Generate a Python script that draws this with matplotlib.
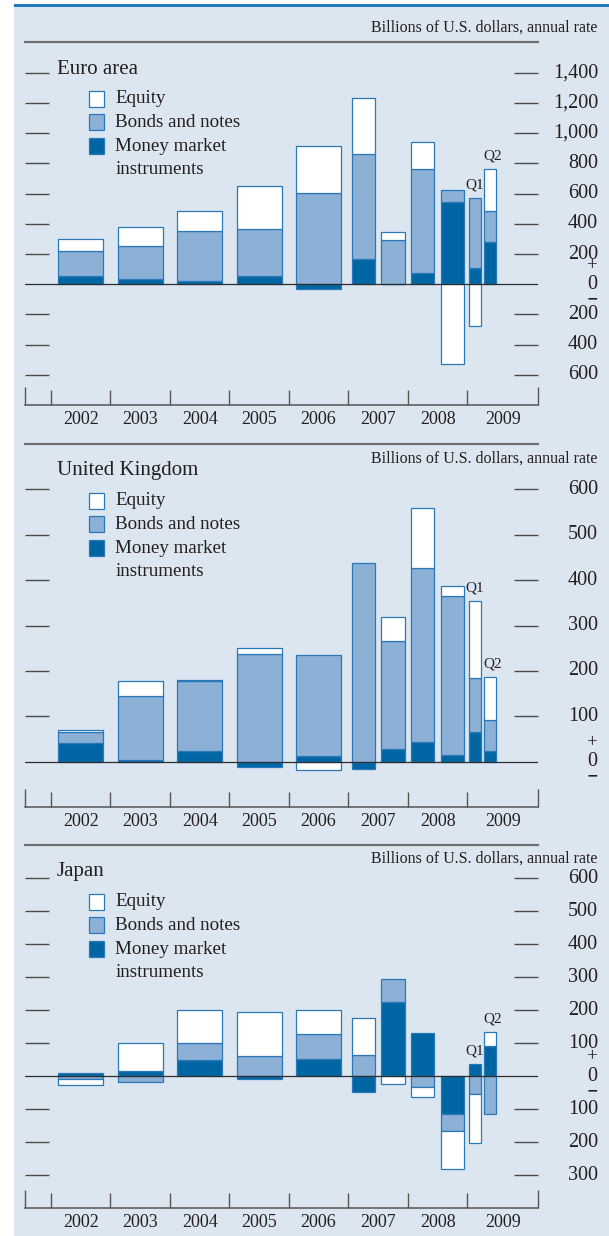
import matplotlib.pyplot as plt
from matplotlib.patches import Rectangle
import matplotlib.transforms as mtransforms

plt.rcParams['font.family'] = ['Liberation Serif', 'DejaVu Serif']

W, H = 609, 1236

# periods shown on each panel: annual, then half years, then 2009 quarters
periods = ['2002', '2003', '2004', '2005', '2006',
           '2007 H1', '2007 H2', '2008 H1', '2008 H2', '2009 Q1', '2009 Q2']
years = ['2002', '2003', '2004', '2005', '2006', '2007', '2008', '2009']
series_names = ['Equity', 'Bonds and notes', 'Money market\ninstruments']

# billions of U.S. dollars, annual rate
euro_money = [57, 35, 22, 53, -29, 170, 3, 75, 545, 106, 278]
euro_bonds = [161, 219, 331, 311, 607, 693, 291, 687, 78, 468, 210]
euro_equity = [80, 123, 130, 287, 309, 369, 55, 181, -528, -274, 276]

uk_money = [41, 4, 23, -12, 12, -16, 28, 43, 15, 65, 24]
uk_bonds = [25, 142, 154, 238, 223, 438, 239, 384, 351, 120, 67]
uk_equity = [4, 32, 3, 13, -18, 0, 52, 132, 20, 168, 95]

jp_money = [8, 15, 48, -10, 51, -48, 223, 132, -116, 38, 91]
jp_bonds = [-9, -17, 53, 61, 78, 65, 70, -34, -49, -54, -116]
jp_equity = [-18, 86, 98, 132, 70, 110, -25, -28, -115, -149, 44]

euro_ticks = [-600, -400, -200, 200, 400, 600, 800, 1000, 1200, 1400]
uk_ticks = [100, 200, 300, 400, 500, 600]
jp_ticks = [-300, -200, -100, 100, 200, 300, 400, 500, 600]

BG = '#dce6f0'
C_EQ = 'white'
C_BOND = '#8cb0d6'
C_MONEY = '#0066a3'
EDGE = '#2a78b8'
TXT = '#231f20'


def fx(x):
    return x / W


def fy(y):
    return 1 - y / H


def slot(p):
    # position and width of a bar from its period label
    yr = int(p[:4]) - 2002
    if 'H' in p:
        k = int(p[-1])
        return yr + 0.25 + 0.5 * (k - 1), 0.39
    if 'Q' in p:
        k = int(p[-1])
        return yr + 0.125 + 0.25 * (k - 1), 0.2
    return yr + 0.5, 0.76


fig = plt.figure(figsize=(W / 100, H / 100), dpi=100, facecolor='white')
fig.add_artist(Rectangle((fx(14), 0), (W - 14) / W, fy(7), transform=fig.transFigure,
                         facecolor=BG, edgecolor='none', zorder=0))
fig.add_artist(Rectangle((fx(14), fy(7)), (W - 14) / W, 3 / H, transform=fig.transFigure,
                         facecolor='#2078bd', edgecolor='none', zorder=1))

xl, xr = -0.444, 8.188
ax_left, ax_right = 24.5, 538

panels = [
    ('Euro area', euro_money, euro_bonds, euro_equity, euro_ticks, 42.3, (-799, 1603), -15),
    ('United Kingdom', uk_money, uk_bonds, uk_equity, uk_ticks, 444.3, (-99, 699), 14),
    ('Japan', jp_money, jp_bonds, jp_equity, jp_ticks, 845, (-398, 700), 13.5),
]
ph = 362.5

for title, money, bonds, equity, ticks, top, ylim, units_dy in panels:
    ax = fig.add_axes([fx(ax_left), fy(top + ph), (ax_right - ax_left) / W, ph / H])
    ax.patch.set_alpha(0)
    ax.set_xlim(xl, xr)
    ax.set_ylim(*ylim)

    pos_cum = [0.0] * len(periods)
    neg_cum = [0.0] * len(periods)
    for vals, col in [(money, C_MONEY), (bonds, C_BOND), (equity, C_EQ)]:
        for i, p in enumerate(periods):
            v = vals[i]
            if v == 0:
                continue
            x, w = slot(p)
            if v > 0:
                b = pos_cum[i]
                pos_cum[i] += v
            else:
                b = neg_cum[i]
                neg_cum[i] += v
            ax.bar(x, v, width=w, bottom=b, color=col, edgecolor=EDGE, linewidth=0.9, zorder=2)

    ax.axhline(0, color='#2d2d2d', lw=0.9, zorder=3)

    # quarter labels above the 2009 bars
    for i, p in enumerate(periods):
        if 'Q' in p:
            x, w = slot(p)
            dx = 0 if p.endswith('1') else 3
            ax.annotate(p[-2:], xy=(x, pos_cum[i]), xytext=(dx, 13), textcoords='offset pixels',
                        ha='center', va='center', fontsize=11, color=TXT)

    for s in ['left', 'right']:
        ax.spines[s].set_visible(False)
    ax.spines['top'].set_color('#6f6f6f')
    ax.spines['top'].set_linewidth(1.6)
    ax.spines['bottom'].set_color('#555555')
    ax.spines['bottom'].set_linewidth(1.1)

    ax.set_xticks(range(8))
    ax.set_xticks([xl, xr], minor=True)
    ax.tick_params(axis='x', which='major', direction='in', length=10.8, width=1.0,
                   color='#555555', labelbottom=False)
    ax.tick_params(axis='x', which='minor', direction='in', length=13, width=1.0,
                   color='#555555', labelbottom=False)
    ax.set_yticks(ticks)
    ax.tick_params(axis='y', direction='in', left=True, right=True, length=17.3, width=1.0,
                   color='#4a4a4a', labelleft=False, labelright=False)

    # right-hand value labels
    lab_tr = mtransforms.blended_transform_factory(ax.transAxes, ax.transData)
    lx = 1 + (598 - ax_right) / (ax_right - ax_left)
    cx = 1 + (592 - ax_right) / (ax_right - ax_left)
    for t in ticks:
        ax.text(lx, t, f'{abs(t):,}', transform=lab_tr, ha='right', va='center',
                fontsize=14.5, color=TXT)
    ax.text(cx, 0, '0', transform=lab_tr, ha='center', va='center', fontsize=14.5, color=TXT)
    ax.annotate('+', xy=(cx, 0), xycoords=lab_tr, xytext=(0, 19), textcoords='offset pixels',
                ha='center', va='center', fontsize=13.5, color=TXT)
    ax.annotate('\u2212', xy=(cx, 0), xycoords=lab_tr, xytext=(0, -14), textcoords='offset pixels',
                ha='center', va='center', fontsize=10, fontweight='bold', color=TXT,
                family='DejaVu Sans')

    # year labels
    yr_tr = mtransforms.blended_transform_factory(ax.transData, fig.transFigure)
    for k, yname in enumerate(years):
        xc = k + 0.5 if k < 7 else (7 + xr) / 2
        ax.text(xc, fy(top + ph + 15), yname, transform=yr_tr, ha='center', va='center',
                fontsize=13, color=TXT)

    fig.text(fx(597), fy(top + units_dy), 'Billions of U.S. dollars, annual rate',
             ha='right', va='center', fontsize=11.5, color=TXT)
    fig.text(fx(57), fy(top + 26.7), title, ha='left', va='center', fontsize=15, color=TXT)

    # legend
    for j, (name, col) in enumerate(zip(series_names, [C_EQ, C_BOND, C_MONEY])):
        cy = top + [56.5, 80, 104][j]
        fig.add_artist(Rectangle((fx(88.5), fy(cy + 8)), 15.5 / W, 16 / H, transform=fig.transFigure,
                                 facecolor=col, edgecolor=EDGE, linewidth=0.9, zorder=4))
        lines = name.split('\n')
        fig.text(fx(115.3), fy(cy), lines[0], ha='left', va='center', fontsize=13.7, color=TXT)
        if len(lines) > 1:
            fig.text(fx(115.3), fy(top + 127.6), lines[1], ha='left', va='center',
                     fontsize=13.7, color=TXT)

fig.savefig('out.png', dpi=100, facecolor='white')
